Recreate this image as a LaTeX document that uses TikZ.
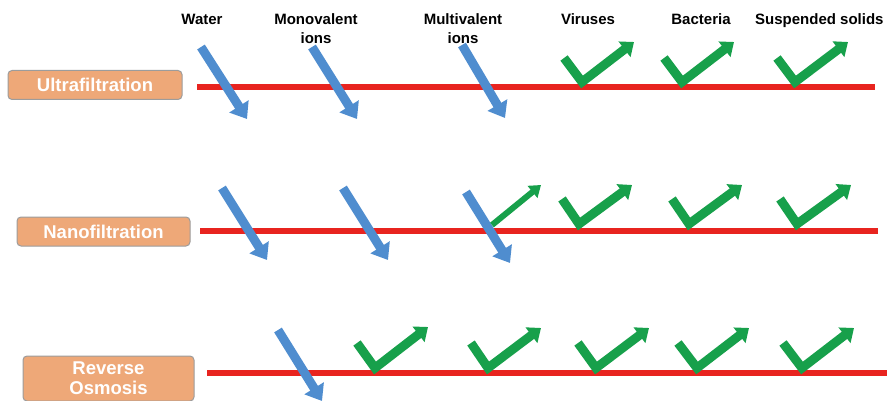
\documentclass[tikz,border=0pt]{standalone}
\usepackage{fontspec}
\setmainfont{Liberation Sans}
\usetikzlibrary{arrows.meta}
\definecolor{membrane}{HTML}{E8241F}
\definecolor{passblue}{HTML}{4F8DCF}
\definecolor{rejgreen}{HTML}{17A04B}
\definecolor{boxfill}{HTML}{EEA878}
\definecolor{boxedge}{HTML}{9C9C9C}
\tikzset{
  membraneline/.style={draw=membrane, line width=6pt},
  processbox/.style={draw=boxedge, line width=1pt, fill=boxfill, rounded corners=4pt,
    text=white, font=\bfseries\fontsize{18.5}{21}\selectfont, align=center, inner sep=0pt},
  header/.style={font=\bfseries\fontsize{15}{17}\selectfont, anchor=base, align=center, inner sep=0pt},
  passes/.style={draw=passblue, line width=9pt, line cap=butt,
    -{Triangle[length=15pt, width=22pt]}},
  retained/.style={draw=rejgreen, line width=9pt, line join=miter, line cap=butt,
    -{Triangle[length=12pt, width=19pt]}},
  retainedthin/.style={draw=rejgreen, line width=6pt, line cap=butt,
    -{Triangle[length=11pt, width=15pt]}},
}
\begin{document}
\begin{tikzpicture}[x=1pt, y=-1pt]
\useasboundingbox (0,0) rectangle (893,401);
\fill[white] (0,0) rectangle (893,401);

% column headers
\node[header] (hwater) at (202,25) {Water};
\node[header] (hmono) at (316,25) {Monovalent};
\node[header] (hmonob) at (316,44) {ions};
\node[header] (hmulti) at (463,25) {Multivalent};
\node[header] (hmultib) at (463,44) {ions};
\node[header] (hvir) at (588,25) {Viruses};
\node[header] (hbac) at (701,25) {Bacteria};
\node[header, anchor=base west] (hsus) at (755,25) {Suspended solids};

% process labels
\node[processbox, minimum width=174pt, minimum height=29pt] (uf) at (95,85) {Ultrafiltration};
\node[processbox, minimum width=173pt, minimum height=29pt] (nf) at (103.5,231.5) {Nanofiltration};
\node[processbox, minimum width=171pt, minimum height=45pt] (ro) at (108.5,378.5) {Reverse\\[-1pt]Osmosis};

% membranes
\coordinate (m1a) at (197,87);  \coordinate (m1b) at (875,87);
\coordinate (m2a) at (200,231); \coordinate (m2b) at (878,231);
\coordinate (m3a) at (207,373); \coordinate (m3b) at (887,373);
\draw[membraneline] (m1a) -- (m1b);
\draw[membraneline] (m2a) -- (m2b);
\draw[membraneline] (m3a) -- (m3b);

% species passing through (blue)
\coordinate (p1s) at (201,47); \coordinate (p1e) at (247,119);
\coordinate (p2s) at (312,47); \coordinate (p2e) at (357,119);
\coordinate (p3s) at (462,45); \coordinate (p3e) at (505,118);
\coordinate (p4s) at (222,188); \coordinate (p4e) at (267,260);
\coordinate (p5s) at (343,188); \coordinate (p5e) at (388,260);
\coordinate (p6s) at (466,192); \coordinate (p6e) at (510,263);
\coordinate (p7s) at (278,330); \coordinate (p7e) at (322,401);
\foreach \i in {1,...,7} { \draw[passes] (p\i s) -- (p\i e); }

% species retained (green ticks)
\coordinate (c1a) at (564,58); \coordinate (c1v) at (582,82); \coordinate (c1t) at (634,42);
\coordinate (c2a) at (664,58); \coordinate (c2v) at (682,82); \coordinate (c2t) at (734,42);
\coordinate (c3a) at (777,58); \coordinate (c3v) at (795,82); \coordinate (c3t) at (848,42);
\coordinate (c4a) at (562,199); \coordinate (c4v) at (579,224); \coordinate (c4t) at (632,185);
\coordinate (c5a) at (672,199); \coordinate (c5v) at (689,224); \coordinate (c5t) at (742,185);
\coordinate (c6a) at (780,199); \coordinate (c6v) at (797,224); \coordinate (c6t) at (851,185);
\coordinate (c7a) at (357,343); \coordinate (c7v) at (375,368); \coordinate (c7t) at (428,327);
\coordinate (c8a) at (471,343); \coordinate (c8v) at (488,368); \coordinate (c8t) at (541,328);
\coordinate (c9a) at (578,343); \coordinate (c9v) at (596,368); \coordinate (c9t) at (649,328);
\coordinate (c10a) at (678,343); \coordinate (c10v) at (697,368); \coordinate (c10t) at (749,328);
\coordinate (c11a) at (783,343); \coordinate (c11v) at (802,368); \coordinate (c11t) at (854,328);
\foreach \i in {1,...,11} { \draw[retained] (c\i a) -- (c\i v) -- (c\i t); }

% partial retention of multivalent ions
\coordinate (r1s) at (492,225); \coordinate (r1e) at (541,185);
\draw[retainedthin] (r1s) -- (r1e);
\end{tikzpicture}
\end{document}
